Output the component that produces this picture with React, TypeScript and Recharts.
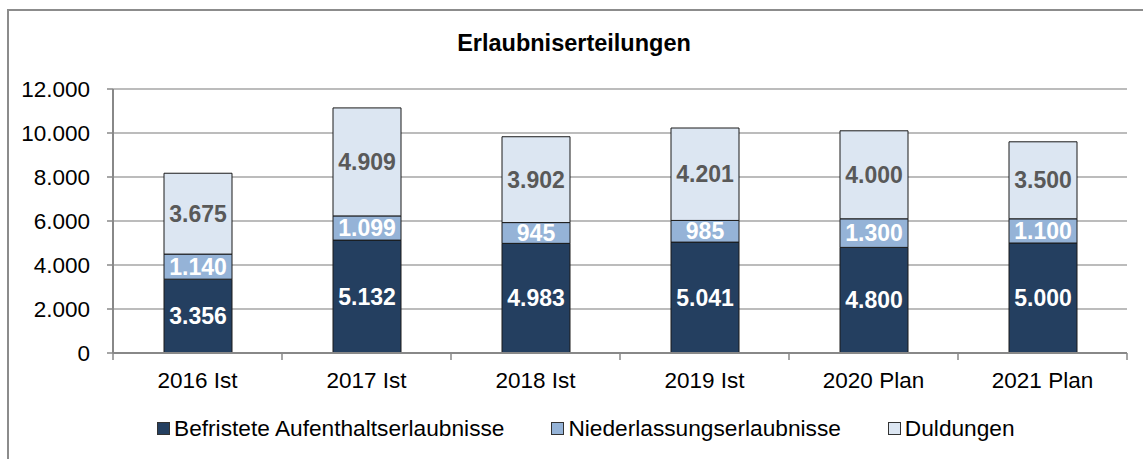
import React from 'react';
import { BarChart, Bar, XAxis, YAxis, CartesianGrid, LabelList } from 'recharts';

const categories = ['2016 Ist', '2017 Ist', '2018 Ist', '2019 Ist', '2020 Plan', '2021 Plan'];
const befristete = [3356, 5132, 4983, 5041, 4800, 5000];
const niederlassung = [1140, 1099, 945, 985, 1300, 1100];
const duldungen = [3675, 4909, 3902, 4201, 4000, 3500];
const yTicks = [0, 2000, 4000, 6000, 8000, 10000, 12000];

const series = [
  { key: 'befristete', name: 'Befristete Aufenthaltserlaubnisse', color: '#243F60', label: '#FFFFFF' },
  { key: 'niederlassung', name: 'Niederlassungserlaubnisse', color: '#95B3D7', label: '#FFFFFF' },
  { key: 'duldungen', name: 'Duldungen', color: '#DCE6F2', label: '#595959' }
];

const data = categories.map((name, i) => ({
  name,
  befristete: befristete[i],
  niederlassung: niederlassung[i],
  duldungen: duldungen[i]
}));

const FONT = '"Liberation Sans", Arial, sans-serif';
const fmt = (v: any) => String(v).replace(/\B(?=(\d{3})+(?!\d))/g, '.');

// ticks between the categories like the office chart
const CategoryTick = (props: any) => {
  const { x, y, payload, index } = props;
  const half = 1014 / categories.length / 2;
  const axisY = y - 8;
  return <g>
      <line x1={x - half} y1={axisY} x2={x - half} y2={axisY + 7} stroke="#888" strokeWidth={1.5} />
      {index === categories.length - 1 && <line x1={x + half} y1={axisY} x2={x + half} y2={axisY + 7} stroke="#888" strokeWidth={1.5} />}
      <text x={x} y={axisY + 35} textAnchor="middle" fill="#000" fontSize={22.5} fontFamily={FONT}>
        {payload.value}
      </text>
    </g>;
};

export default function App() {
  return <div style={{ position: 'absolute', left: 0, top: 0, width: 1143, height: 459, overflow: 'hidden', background: '#fff', fontFamily: FONT }}>
      <div style={{ position: 'absolute', left: 7, top: 9, width: 1200, height: 500, border: '2px solid #8c8c8c' }} />
      <div style={{ position: 'absolute', left: 0, top: 30, width: 1148, textAlign: 'center', fontSize: 23.5, fontWeight: 'bold', color: '#000' }}>
        Erlaubniserteilungen
      </div>
      <div style={{ position: 'absolute', left: 0, top: 0 }}>
        <BarChart width={1143} height={459} data={data} margin={{ top: 89, right: 16, left: 0, bottom: 0 }} barSize={68}>
          <CartesianGrid vertical={false} stroke="#a6a6a6" strokeWidth={1.5} />
          <XAxis dataKey="name" height={106} tickLine={false} tickSize={6} tickMargin={2} axisLine={{ stroke: '#888', strokeWidth: 2 }} tick={<CategoryTick />} interval={0} />
          <YAxis width={113} domain={[0, 12000]} ticks={yTicks} tickFormatter={fmt} tickSize={6} tickMargin={17} axisLine={{ stroke: '#888', strokeWidth: 2 }} tickLine={{ stroke: '#888', strokeWidth: 1.5 }} tick={{ fill: '#000', fontSize: 22.5, fontFamily: FONT }} interval={0} />
          {series.map(s => <Bar key={s.key} dataKey={s.key} name={s.name} stackId="a" fill={s.color} stroke="#1a1a1a" strokeWidth={1} isAnimationActive={false}>
              <LabelList dataKey={s.key} position="center" formatter={fmt} fill={s.label} fontSize={23} fontWeight="bold" fontFamily={FONT} />
            </Bar>)}
        </BarChart>
      </div>
      <div style={{ position: 'absolute', left: 157, top: 415, display: 'flex', alignItems: 'center', fontSize: 22.7, color: '#000', whiteSpace: 'nowrap' }}>
        {series.map((s, i) => <div key={s.key} style={{ display: 'flex', alignItems: 'center', marginRight: i < series.length - 1 ? 47 : 0 }}>
            <span style={{ display: 'inline-block', width: 11, height: 11, background: s.color, border: '1px solid #333', marginRight: 4 }} />
            <span>{s.name}</span>
          </div>)}
      </div>
    </div>;
}
